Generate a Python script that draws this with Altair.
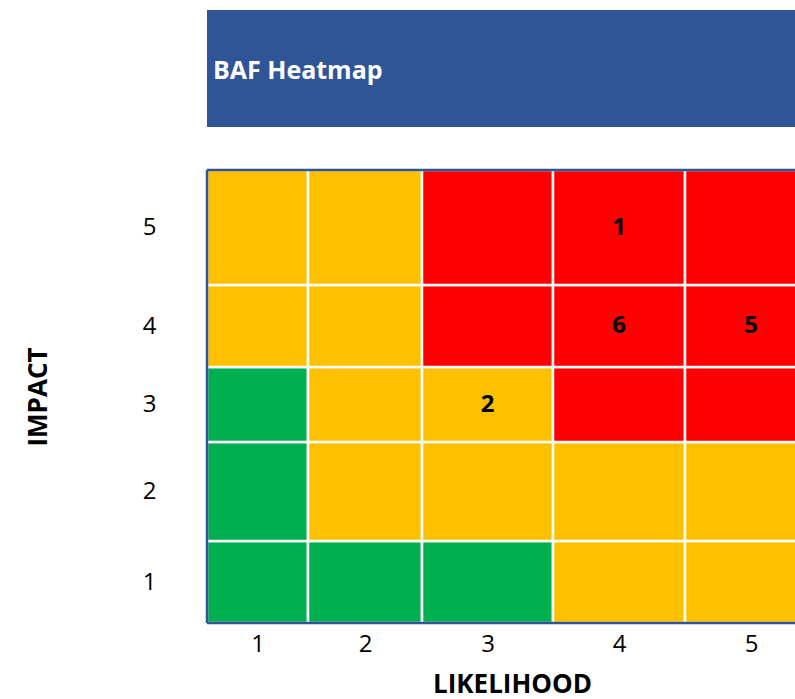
import altair as alt
import pandas as pd

# ---- data ----
LIKELIHOOD = [1, 2, 3, 4, 5]
IMPACT = [1, 2, 3, 4, 5]
# cell boundaries (the source grid has unequal column/row sizes)
COL_EDGES = [0, 101, 215, 346, 478, 610]
ROW_EDGES = [0, 82, 181, 256, 338, 453]
# rating per impact row (impact 1 .. 5), columns = likelihood 1..5
RATING = [
    ["green", "green", "green", "amber", "amber"],   # impact 1
    ["green", "amber", "amber", "amber", "amber"],   # impact 2
    ["green", "amber", "amber", "red", "red"],       # impact 3
    ["amber", "amber", "red", "red", "red"],         # impact 4
    ["amber", "amber", "red", "red", "red"],         # impact 5
]
RATING_LEVELS = ["green", "amber", "red"]
RATING_COLORS = ["#00B050", "#FFC000", "#FF0000"]
# risk ids placed in the grid
RISK_LIKELIHOOD = [4, 4, 5, 3]
RISK_IMPACT = [5, 4, 4, 3]
RISK_ID = ["1", "6", "5", "2"]

TITLE = "BAF Heatmap"
X_TITLE = "LIKELIHOOD"
Y_TITLE = "IMPACT"

FONT = "Open Sans"
W, H = 588, 453

rows = []
for i, imp in enumerate(IMPACT):
    for j, lik in enumerate(LIKELIHOOD):
        rows.append({
            "likelihood": lik, "impact": imp,
            "x0": COL_EDGES[j], "x1": COL_EDGES[j + 1],
            "y0": ROW_EDGES[i], "y1": ROW_EDGES[i + 1],
            "xc": (COL_EDGES[j] + COL_EDGES[j + 1]) / 2,
            "yc": (ROW_EDGES[i] + ROW_EDGES[i + 1]) / 2,
            "rating": RATING[i][j],
        })
cells_df = pd.DataFrame(rows)

labels_df = pd.DataFrame({
    "likelihood": RISK_LIKELIHOOD, "impact": RISK_IMPACT, "id": RISK_ID,
})
labels_df = labels_df.merge(cells_df[["likelihood", "impact", "xc", "yc"]],
                            on=["likelihood", "impact"])

x_centers = [(COL_EDGES[k] + COL_EDGES[k + 1]) / 2 for k in range(len(LIKELIHOOD))]
y_centers = [(ROW_EDGES[k] + ROW_EDGES[k + 1]) / 2 for k in range(len(IMPACT))]


def label_expr(edges, names):
    expr = f"'{names[-1]}'"
    for k in range(len(names) - 2, -1, -1):
        expr = f"datum.value < {edges[k + 1]} ? '{names[k]}' : ({expr})"
    return expr


x_scale = alt.Scale(domain=[0, W], nice=False, zero=False)
y_scale = alt.Scale(domain=[0, ROW_EDGES[-1]], nice=False, zero=False)

x_axis = alt.Axis(
    values=x_centers, labelExpr=label_expr(COL_EDGES, [str(v) for v in LIKELIHOOD]),
    title=X_TITLE, grid=False, ticks=False, domain=False,
    labelFont=FONT, labelFontSize=24, labelColor="#000000", labelPadding=9,
    labelBaseline="top", labelAlign="center",
    titleFont=FONT, titleFontSize=26, titleFontWeight="bold", titleColor="#000000",
    titleX=(COL_EDGES[-1]) / 2, titleY=69, titleAlign="center", titleBaseline="alphabetic",
)
y_axis = alt.Axis(
    values=y_centers, labelExpr=label_expr(ROW_EDGES, [str(v) for v in IMPACT]),
    title=Y_TITLE, grid=False, ticks=False, domain=False,
    labelFont=FONT, labelFontSize=24, labelColor="#000000", labelPadding=51,
    labelAlign="right", labelBaseline="middle",
    titleFont=FONT, titleFontSize=26, titleFontWeight="bold", titleColor="#000000",
    titleX=-169, titleY=H / 2, titleAngle=270, titleAlign="center", titleBaseline="middle",
)

cells = alt.Chart(cells_df).mark_rect(stroke="white", strokeWidth=2.5, clip=True).encode(
    x=alt.X("x0:Q", scale=x_scale, axis=x_axis),
    x2="x1:Q",
    y=alt.Y("y0:Q", scale=y_scale, axis=y_axis),
    y2="y1:Q",
    color=alt.Color("rating:N", scale=alt.Scale(domain=RATING_LEVELS, range=RATING_COLORS),
                    legend=None),
)

ids = alt.Chart(labels_df).mark_text(
    font=FONT, fontSize=24, fontWeight="bold", color="#000000", baseline="middle", align="center"
).encode(
    x=alt.X("xc:Q", scale=x_scale, axis=x_axis),
    y=alt.Y("yc:Q", scale=y_scale, axis=y_axis),
    text="id:N",
)

one = pd.DataFrame({"a": [0]})
band = alt.Chart(one).mark_rect(color="#2F5597").encode(
    x=alt.value(0), x2=alt.value(W), y=alt.value(-160), y2=alt.value(-43)
)
band_text = alt.Chart(one).mark_text(
    font=FONT, fontSize=25, fontWeight="bold", color="white", align="left", baseline="alphabetic"
).encode(x=alt.value(6), y=alt.value(-91), text=alt.value(TITLE))

border_color = "#2F5597"
b_top = alt.Chart(one).mark_rule(color=border_color, strokeWidth=2.5).encode(
    x=alt.value(0), x2=alt.value(W), y=alt.value(0))
b_bottom = alt.Chart(one).mark_rule(color=border_color, strokeWidth=2.5).encode(
    x=alt.value(0), x2=alt.value(W), y=alt.value(H))
b_left = alt.Chart(one).mark_rule(color=border_color, strokeWidth=2.5).encode(
    x=alt.value(0), y=alt.value(0), y2=alt.value(H))

chart = alt.layer(band, band_text, cells, ids, b_top, b_bottom, b_left).properties(
    width=W, height=H,
    autosize=alt.AutoSizeParams(type="none"),
    padding={"left": 207, "top": 170, "right": 0, "bottom": 76},
    background="white",
).configure_view(stroke=None)

chart.save("out.html", embed_options={"renderer": "svg", "actions": False})
